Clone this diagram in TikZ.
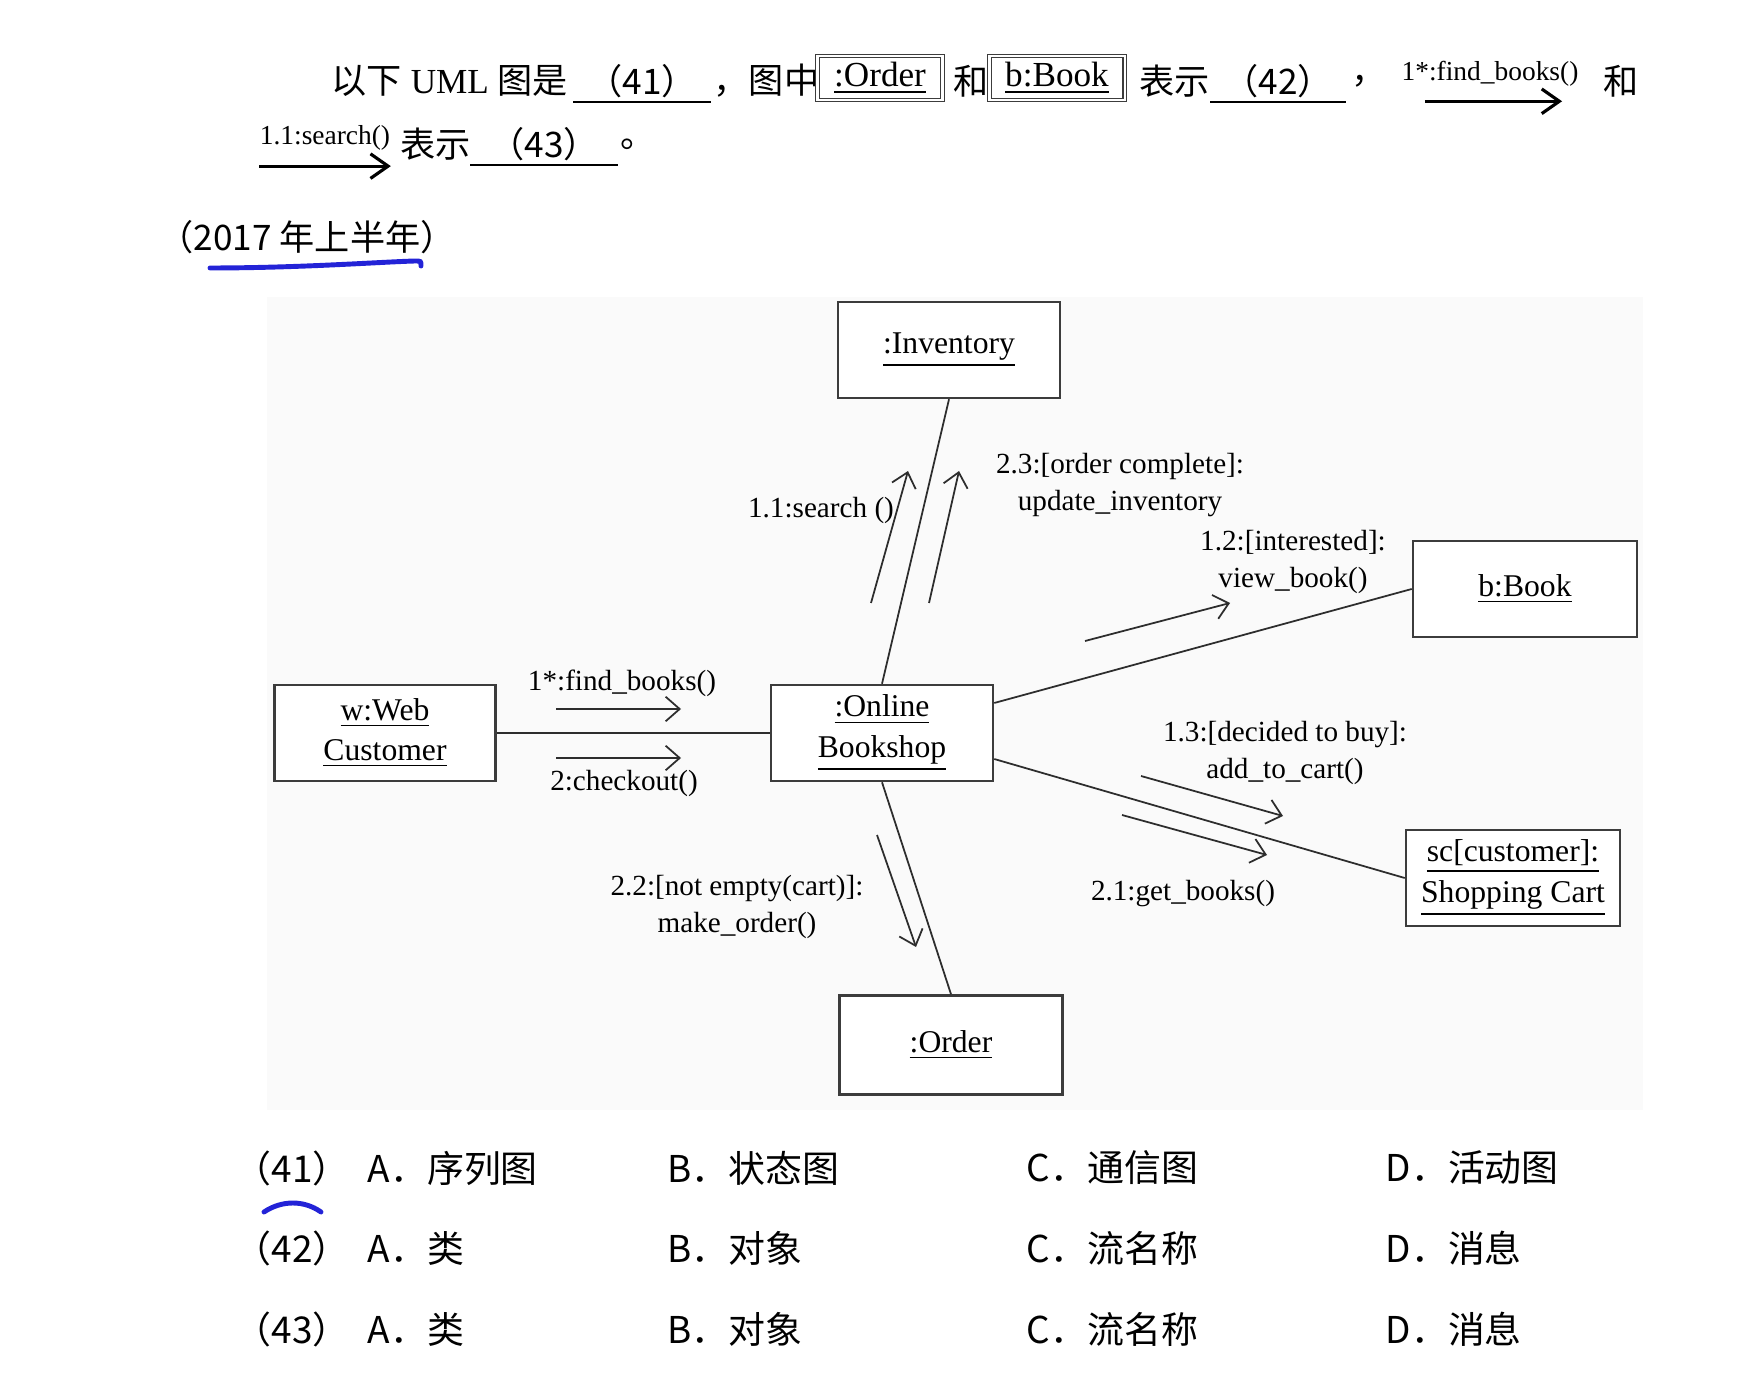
\documentclass[tikz,border=0pt]{standalone}
\usepackage{fontspec}
\setmainfont{Liberation Serif}
\newfontfamily\cjk{Noto Sans CJK SC}
\usepackage{tikz}
\usetikzlibrary{arrows.meta,positioning,calc}
\usepackage{xcolor}
\definecolor{cBox}{RGB}{60,60,60}
\definecolor{cLine}{RGB}{45,45,45}
\definecolor{cBack}{RGB}{250,250,250}
\definecolor{cPen}{RGB}{35,35,215}
\tikzset{
  objbox/.style={rectangle,draw=cBox,line width=0.7pt,fill=white,align=center,
                 font=\fontsize{9}{11.5}\selectfont,minimum width=2.22cm,
                 minimum height=0.96cm,inner sep=2pt},
  link/.style={draw=cLine,line width=0.5pt},
  msg/.style={-{Straight Barb[length=4pt,width=7pt]},line width=0.5pt,draw=cLine},
  hdrarr/.style={-{Straight Barb[length=5pt,width=7pt]},line width=0.9pt,draw=black},
  msglbl/.style={align=center,font=\fontsize{8.3}{10.5}\selectfont,inner sep=0pt},
  qtext/.style={anchor=west,inner sep=0pt,font=\fontsize{10}{12}\selectfont},
  smalltext/.style={inner sep=0pt,font=\fontsize{7.8}{9}\selectfont},
  blank/.style={inner sep=0pt,minimum height=0.4cm,font=\cjk\fontsize{10}{12}\selectfont},
  hdrbox/.style={rectangle,draw=cBox,double,double distance=0.6pt,line width=0.35pt,
                 inner sep=0pt,minimum height=0.44cm,font=\fontsize{10}{12}\selectfont},
  opt/.style={anchor=west,inner sep=0pt,font=\cjk\fontsize{10.5}{12}\selectfont},
  pen/.style={draw=cPen,line width=1.4pt,line cap=round}
}

\begin{document}
\begin{tikzpicture}[x=0.01cm,y=-0.01cm]
  \useasboundingbox (0,0) rectangle (1758,1398);

  % question text
  \node[qtext] (q1) at (331,81) {{\cjk 以下} UML {\cjk 图是}};
  \node[blank,minimum width=1.36cm] (b41) at (642,81) {（41）};
  \draw[line width=0.6pt] (b41.south west) -- (b41.south east);
  \node[qtext,font=\cjk\fontsize{10}{12}\selectfont] (q2) at (713,81) {，图中};
  \node[hdrbox,minimum width=1.25cm] (hOrder) at (880,78) {\underline{:Order}};
  \node[qtext,font=\cjk\fontsize{10}{12}\selectfont] (q3) at (953,81) {和};
  \node[hdrbox,minimum width=1.35cm] (hBook) at (1057,78) {\underline{b:Book}};
  \node[qtext,font=\cjk\fontsize{10}{12}\selectfont] (q4) at (1139,81) {表示};
  \node[blank,minimum width=1.34cm] (b42) at (1278,81) {（42）};
  \draw[line width=0.6pt] (b42.south west) -- (b42.south east);
  \node[qtext,font=\cjk\fontsize{10}{12}\selectfont] (q5) at (1351,81) {，};
  \node[smalltext] (hFind) at (1490,74) {1*:find\_books()};
  \draw[hdrarr] ([xshift=0.24cm,yshift=-0.14cm]hFind.south west)
             -- ([xshift=-0.17cm,yshift=-0.14cm]hFind.south east);
  \node[qtext,font=\cjk\fontsize{10}{12}\selectfont] (q6) at (1603,81) {和};

  \node[smalltext] (hSearch) at (325,138) {1.1:search()};
  \draw[hdrarr] ([yshift=-0.15cm]hSearch.south west)
             -- ([yshift=-0.15cm]hSearch.south east);
  \node[qtext,font=\cjk\fontsize{10}{12}\selectfont] (q7) at (400,144) {表示};
  \node[blank,minimum width=1.46cm] (b43) at (544,144) {（43）};
  \draw[line width=0.6pt] (b43.south west) -- (b43.south east);
  \node[qtext,font=\cjk\fontsize{10}{12}\selectfont] (q8) at (620,144) {。};

  \node[qtext,font=\cjk\fontsize{10}{12}\selectfont] (year) at (158,237) {（2017 年上半年）};
  \draw[pen] (210,268) .. controls (300,268) and (380,262) .. (415,261)
             .. controls (421,261) .. (421,266);

  % diagram
  \fill[cBack] (267,297) rectangle (1643,1110);

  \node[objbox] (inv) at (949,350) {\underline{:Inventory}};
  \node[objbox,minimum width=2.24cm] (book) at (1525,589) {\underline{b:Book}};
  \node[objbox,minimum width=2.21cm] (cust) at (385,733) {\underline{w:Web}\\\underline{Customer}};
  \node[objbox] (shop) at (882,733) {\underline{:Online}\\\underline{Bookshop}};
  \node[objbox,minimum width=2.14cm] (cart) at (1513,878) {\underline{sc[customer]:}\\\underline{Shopping Cart}};
  \node[objbox,minimum width=2.23cm,minimum height=0.99cm] (order) at (951,1045) {\underline{:Order}};

  \draw[link] (cust) -- (shop);
  \draw[link] (inv.south) -- (shop.north);
  \draw[link] ([yshift=0.3cm]shop.east) -- (book.west);
  \draw[link] ([yshift=-0.26cm]shop.east) -- (cart.west);
  \draw[link] (shop.south) -- (order.north);

  % messages
  \coordinate (findS) at (556,709);   \coordinate (findE) at (681,709);
  \coordinate (chkS) at (556,758);    \coordinate (chkE) at (681,758);
  \coordinate (srchS) at (871,603);   \coordinate (srchE) at (908,471);
  \coordinate (updS) at (929,603);    \coordinate (updE) at (959,471);
  \coordinate (viewS) at (1085,641);  \coordinate (viewE) at (1230,603);
  \coordinate (addS) at (1141,776);   \coordinate (addE) at (1283,816);
  \coordinate (getS) at (1122,815);   \coordinate (getE) at (1267,855);
  \coordinate (mkS) at (877,835);     \coordinate (mkE) at (916,947);

  \draw[msg] (findS) -- (findE);
  \draw[msg] (chkS) -- (chkE);
  \draw[msg] (srchS) -- (srchE);
  \draw[msg] (updS) -- (updE);
  \draw[msg] (viewS) -- (viewE);
  \draw[msg] (addS) -- (addE);
  \draw[msg] (getS) -- (getE);
  \draw[msg] (mkS) -- (mkE);

  \node[msglbl] (lFind) at (622,683) {1*:find\_books()};
  \node[msglbl] (lChk) at (624,783) {2:checkout()};
  \node[msglbl] (lSrch) at (821,510) {1.1:search ()};
  \node[msglbl] (lUpd) at (1120,485) {2.3:[order complete]:\\update\_inventory};
  \node[msglbl] (lView) at (1293,562) {1.2:[interested]:\\view\_book()};
  \node[msglbl] (lAdd) at (1285,753) {1.3:[decided to buy]:\\add\_to\_cart()};
  \node[msglbl] (lGet) at (1183,894) {2.1:get\_books()};
  \node[msglbl] (lMk) at (737,907) {2.2:[not empty(cart)]:\\make\_order()};

  % options
  \node[opt] (o41) at (234,1168) {（41）};
  \node[opt] (o41a) at (367,1168) {A．序列图};
  \node[opt] (o41b) at (667,1168) {B．状态图};
  \node[opt] (o41c) at (1026,1168) {C．通信图};
  \node[opt] (o41d) at (1385,1168) {D．活动图};
  \draw[pen] (264,1212) .. controls (282,1200) and (304,1200) .. (321,1212);

  \node[opt] (o42) at (234,1248) {（42）};
  \node[opt] (o42a) at (367,1248) {A．类};
  \node[opt] (o42b) at (667,1248) {B．对象};
  \node[opt] (o42c) at (1026,1248) {C．流名称};
  \node[opt] (o42d) at (1385,1248) {D．消息};

  \node[opt] (o43) at (234,1329) {（43）};
  \node[opt] (o43a) at (367,1329) {A．类};
  \node[opt] (o43b) at (667,1329) {B．对象};
  \node[opt] (o43c) at (1026,1329) {C．流名称};
  \node[opt] (o43d) at (1385,1329) {D．消息};
\end{tikzpicture}
\end{document}
